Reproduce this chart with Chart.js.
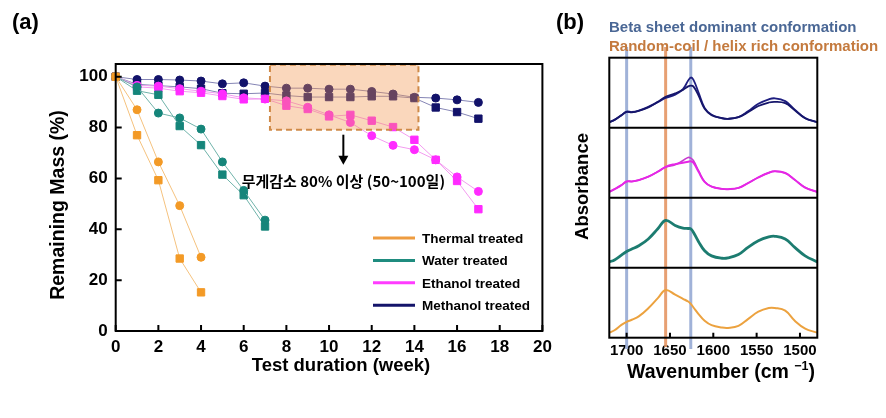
<!DOCTYPE html>
<html>
<head>
<meta charset="utf-8">
<script src="https://cdn.jsdelivr.net/npm/chart.js@4.4.1/dist/chart.umd.min.js"></script>
<style>
  html, body { margin: 0; padding: 0; background: #fff; }
  #wrap { position: relative; width: 886px; height: 418px; overflow: hidden; font-family: "Liberation Sans", Arial, sans-serif; font-weight: bold; }
  canvas { position: absolute; top: 0; }
  #massChart { left: 0; }
  #ftirChart { left: 560px; }
  .lbl { position: absolute; white-space: nowrap; line-height: 1; }
</style>
</head>
<body>
<div id="wrap">
  <canvas id="massChart" width="560" height="418"></canvas>
  <canvas id="ftirChart" width="326" height="418"></canvas>
  <div class="lbl" style="left:12px;top:11px;font-size:22px">(a)</div>
  <div class="lbl" style="left:556px;top:11px;font-size:22px">(b)</div>
  <div class="lbl" style="left:609px;top:19px;font-size:15px;color:#4a6795">Beta sheet dominant conformation</div>
  <div class="lbl" style="left:609px;top:38px;font-size:15px;color:#c47a3e">Random-coil / helix rich conformation</div>
  <div class="lbl" style="left:627px;top:362px;font-size:19.5px">Wavenumber (cm <span style="font-size:12.5px;position:relative;top:-8px">−1</span>)</div>
</div>
<script>
// ---- (a) remaining mass data ----
const xTicksA = [0, 2, 4, 6, 8, 10, 12, 14, 16, 18, 20];
const yTicksA = [0, 20, 40, 60, 80, 100];

const thermalWeeks = [0, 1, 2, 3, 4];
const thermalCircle = [100, 87, 66.5, 49.3, 29];
const thermalSquare = [100, 77, 59.3, 28.5, 15.2];

const waterWeeks = [0, 1, 2, 3, 4, 5, 6, 7];
const waterCircle = [100, 96, 85.7, 83.8, 79.4, 66.5, 55.3, 43.6];
const waterSquare = [100, 94.5, 92.9, 80.6, 73.1, 61.5, 53.4, 41.1];

const longWeeks = [0, 1, 2, 3, 4, 5, 6, 7, 8, 9, 10, 11, 12, 13, 14, 15, 16, 17];
const ethanolCircle = [100, 96.6, 96.3, 95.3, 94.3, 93.3, 91.7, 91.2, 90.5, 88, 85, 82, 76.8, 73, 71.3, 67.3, 60.6, 54.9];
const ethanolSquare = [100, 96, 95.5, 94.3, 93.7, 92.4, 91.1, 91.3, 88.6, 87.3, 84.4, 85, 82.7, 80.2, 75.2, 67.3, 59, 47.9];
const methanolCircle = [100, 98.9, 98.9, 98.7, 98.3, 97.2, 97.6, 96.3, 95.5, 95.5, 95.1, 95.1, 94.2, 93.2, 91.9, 91.6, 90.9, 89.9];
const methanolSquare = [100, 97, 96.5, 96, 95.3, 93.5, 93.3, 93.6, 92.6, 92, 92, 92, 92.3, 92.3, 91.6, 87.9, 86.1, 83.5];

const seriesNames = ['Thermal treated', 'Water treated', 'Ethanol treated', 'Methanol treated'];

// ---- (b) FTIR data ----
const wavenumbers = [1720, 1714, 1706, 1700, 1694, 1686, 1675, 1664, 1655, 1644, 1635, 1629, 1626, 1623, 1617, 1610, 1602, 1590, 1583, 1571, 1560, 1548, 1536, 1529, 1517, 1506, 1494, 1480];
const thermalAbs = [0.072, 0.106, 0.184, 0.227, 0.256, 0.304, 0.42, 0.565, 0.681, 0.614, 0.556, 0.517, 0.483, 0.435, 0.338, 0.242, 0.179, 0.145, 0.14, 0.169, 0.266, 0.372, 0.425, 0.425, 0.386, 0.242, 0.13, 0.072];
const waterAbs = [0.082, 0.111, 0.179, 0.232, 0.266, 0.314, 0.411, 0.556, 0.676, 0.604, 0.565, 0.56, 0.556, 0.507, 0.372, 0.242, 0.169, 0.135, 0.14, 0.188, 0.29, 0.386, 0.44, 0.449, 0.411, 0.29, 0.169, 0.082];
const ethanolAbsA = [0.082, 0.121, 0.179, 0.232, 0.232, 0.251, 0.3, 0.372, 0.435, 0.469, 0.531, 0.575, 0.565, 0.531, 0.386, 0.227, 0.159, 0.126, 0.121, 0.14, 0.208, 0.29, 0.357, 0.377, 0.353, 0.256, 0.145, 0.082];
const ethanolAbsB = [0.082, 0.121, 0.179, 0.232, 0.232, 0.251, 0.3, 0.372, 0.44, 0.48, 0.5, 0.515, 0.52, 0.5, 0.37, 0.227, 0.159, 0.126, 0.121, 0.14, 0.208, 0.29, 0.357, 0.377, 0.353, 0.256, 0.145, 0.082];
const methanolAbsA = [0.078, 0.112, 0.176, 0.229, 0.224, 0.244, 0.298, 0.366, 0.424, 0.473, 0.551, 0.673, 0.717, 0.688, 0.502, 0.283, 0.185, 0.137, 0.127, 0.151, 0.234, 0.341, 0.405, 0.42, 0.38, 0.259, 0.137, 0.078];
const methanolAbsB = [0.078, 0.112, 0.18, 0.225, 0.22, 0.24, 0.29, 0.37, 0.44, 0.49, 0.54, 0.59, 0.6, 0.59, 0.46, 0.27, 0.18, 0.135, 0.127, 0.15, 0.22, 0.31, 0.36, 0.37, 0.35, 0.25, 0.135, 0.078];
const wnTicks = [1500, 1550, 1600, 1650, 1700];
const betaLines = [1700, 1626];
const coilLines = [1655];

const FONT = '"Liberation Sans", Arial, sans-serif';

function pts(xs, ys) { return xs.map((x, i) => ({ x: x, y: ys[i] })); }

// ---------- chart (a) ----------
const styleA = [
  { marker: '#f39a26', line: '#f5c27e', legend: '#ee9c40' },
  { marker: '#15857a', line: '#6fb3aa', legend: '#1f8c7f' },
  { marker: '#ff2bff', line: '#f39cf0', legend: '#ff3cff' },
  { marker: '#12126a', line: '#8585b5', legend: '#14146a' }
];
const groupsA = [
  [thermalWeeks, thermalCircle, thermalSquare],
  [waterWeeks, waterCircle, waterSquare],
  [longWeeks, ethanolCircle, ethanolSquare],
  [longWeeks, methanolCircle, methanolSquare]
];
const datasetsA = [];
groupsA.forEach((g, i) => {
  const st = styleA[i];
  [[g[1], 'circle', 4], [g[2], 'rect', 5.2]].forEach(([vals, shape, r]) => {
    datasetsA.push({
      label: seriesNames[i],
      data: pts(g[0], vals),
      showLine: true,
      clip: false,
      borderColor: st.line,
      borderWidth: 1,
      pointStyle: shape,
      pointRadius: r,
      pointBackgroundColor: st.marker,
      pointBorderColor: st.marker,
      pointBorderWidth: 1
    });
  });
});

const frameA = {
  id: 'frameA',
  afterDatasetsDraw(chart) {
    const { ctx, scales: { x, y } } = chart;
    // shaded region of interest
    const x0 = x.getPixelForValue(7.23), x1 = x.getPixelForValue(14.19);
    const y0 = y.getPixelForValue(104.7), y1 = y.getPixelForValue(79.1);
    ctx.save();
    ctx.fillStyle = 'rgba(242,150,80,0.38)';
    ctx.fillRect(x0, y0, x1 - x0, y1 - y0);
    ctx.setLineDash([6, 4]);
    ctx.strokeStyle = '#cf8a48';
    ctx.lineWidth = 2;
    ctx.strokeRect(x0, y0, x1 - x0, y1 - y0);
    ctx.setLineDash([]);
    // arrow
    const ax = x.getPixelForValue(10.67);
    const ay0 = y.getPixelForValue(77.2), ay1 = y.getPixelForValue(65.4);
    ctx.strokeStyle = '#000';
    ctx.fillStyle = '#000';
    ctx.lineWidth = 2;
    ctx.beginPath(); ctx.moveTo(ax, ay0); ctx.lineTo(ax, ay1 - 8); ctx.stroke();
    ctx.beginPath(); ctx.moveTo(ax - 5, ay1 - 9); ctx.lineTo(ax + 5, ay1 - 9); ctx.lineTo(ax, ay1); ctx.closePath(); ctx.fill();
    ctx.font = 'bold 15px "Noto Sans CJK KR", ' + FONT;
    ctx.textAlign = 'center';
    ctx.textBaseline = 'middle';
    ctx.fillText('무게감소 80% 이상 (50~100일)', ax, y.getPixelForValue(58.9));
    // legend
    ctx.textAlign = 'left';
    ctx.font = 'bold 13.5px ' + FONT;
    seriesNames.forEach((name, i) => {
      const ly = 238 + i * 22.4;
      ctx.strokeStyle = styleA[i].legend;
      ctx.lineWidth = 3;
      ctx.beginPath(); ctx.moveTo(373, ly); ctx.lineTo(415, ly); ctx.stroke();
      ctx.fillStyle = '#000';
      ctx.fillText(name, 422, ly + 1);
    });
    ctx.restore();
  },
  afterDraw(chart) {
    const { ctx, chartArea: a, scales: { x, y } } = chart;
    ctx.save();
    ctx.strokeStyle = '#000';
    ctx.lineWidth = 2;
    ctx.strokeRect(a.left, a.top, a.right - a.left, a.bottom - a.top);
    ctx.beginPath();
    xTicksA.forEach(v => { const px = x.getPixelForValue(v); ctx.moveTo(px, a.bottom); ctx.lineTo(px, a.bottom - 6); });
    yTicksA.forEach(v => { const py = y.getPixelForValue(v); ctx.moveTo(a.left, py); ctx.lineTo(a.left + 6, py); });
    ctx.stroke();
    // axis titles
    ctx.fillStyle = '#000';
    ctx.textAlign = 'center';
    ctx.textBaseline = 'middle';
    ctx.font = 'bold 18.5px ' + FONT;
    ctx.fillText('Test duration (week)', 341, 366);
    ctx.translate(58.5, 205);
    ctx.rotate(-Math.PI / 2);
    ctx.font = 'bold 19.5px ' + FONT;
    ctx.fillText('Remaining Mass (%)', 0, 0);
    ctx.restore();
  }
};

new Chart(document.getElementById('massChart'), {
  type: 'scatter',
  data: { datasets: datasetsA },
  options: {
    responsive: false,
    animation: false,
    layout: { padding: { top: 64, right: 17.6, left: 0, bottom: 0 } },
    plugins: { legend: { display: false }, tooltip: { enabled: false } },
    scales: {
      x: {
        type: 'linear', min: 0, max: 20,
        afterBuildTicks: s => { s.ticks = xTicksA.map(v => ({ value: v })); },
        afterFit: s => { s.height = 87; s.paddingLeft = 0; s.paddingRight = 0; },
        grid: { display: false, drawTicks: false },
        border: { display: false },
        ticks: { padding: 6, color: '#000', font: { family: FONT, size: 17, weight: 'bold' } }
      },
      y: {
        type: 'linear', min: 0, max: 105,
        afterBuildTicks: s => { s.ticks = yTicksA.map(v => ({ value: v })); },
        afterFit: s => { s.width = 115.7; s.paddingTop = 0; s.paddingBottom = 0; },
        grid: { display: false, drawTicks: false },
        border: { display: false },
        ticks: { padding: 8, color: '#000', font: { family: FONT, size: 17, weight: 'bold' } }
      }
    }
  },
  plugins: [frameA]
});

// ---------- chart (b) ----------
const spectra = [
  { vals: thermalAbs, offset: 0, color: '#eca23f', width: 2 },
  { vals: waterAbs, offset: 1, color: '#1c7c70', width: 2.8 },
  { vals: ethanolAbsB, offset: 2, color: '#e626e6', width: 2 },
  { vals: ethanolAbsA, offset: 2, color: '#c83ad0', width: 1.6 },
  { vals: methanolAbsB, offset: 3, color: '#16166b', width: 1.8 },
  { vals: methanolAbsA, offset: 3, color: '#1e1e80', width: 1.8 }
];
const datasetsB = spectra.map(s => ({
  data: wavenumbers.map((w, i) => ({ x: w, y: s.offset + s.vals[i] })),
  showLine: true,
  borderColor: s.color,
  borderWidth: s.width,
  pointRadius: 0,
  tension: 0.4
}));

const frameB = {
  id: 'frameB',
  beforeDatasetsDraw(chart) {
    const { ctx, scales: { x } } = chart;
    ctx.save();
    ctx.lineWidth = 3;
    ctx.strokeStyle = 'rgba(150,170,212,0.9)';
    betaLines.forEach(w => { const px = x.getPixelForValue(w); ctx.beginPath(); ctx.moveTo(px, 47); ctx.lineTo(px, 349); ctx.stroke(); });
    ctx.strokeStyle = 'rgba(228,150,100,0.9)';
    coilLines.forEach(w => { const px = x.getPixelForValue(w); ctx.beginPath(); ctx.moveTo(px, 47); ctx.lineTo(px, 347); ctx.stroke(); });
    ctx.restore();
  },
  afterDraw(chart) {
    const { ctx, chartArea: a, scales: { x, y } } = chart;
    ctx.save();
    ctx.strokeStyle = '#000';
    ctx.lineWidth = 2;
    ctx.strokeRect(a.left, a.top, a.right - a.left, a.bottom - a.top);
    ctx.beginPath();
    [1, 2, 3].forEach(v => { const py = y.getPixelForValue(v); ctx.moveTo(a.left, py); ctx.lineTo(a.right, py); });
    wnTicks.forEach(v => { const px = x.getPixelForValue(v); ctx.moveTo(px, a.bottom); ctx.lineTo(px, a.bottom - 5); });
    ctx.stroke();
    ctx.fillStyle = '#000';
    ctx.textAlign = 'center';
    ctx.textBaseline = 'middle';
    ctx.translate(22.5, 186.5);
    ctx.rotate(-Math.PI / 2);
    ctx.font = 'bold 18.5px ' + FONT;
    ctx.fillText('Absorbance', 0, 0);
    ctx.restore();
  }
};

new Chart(document.getElementById('ftirChart'), {
  type: 'scatter',
  data: { datasets: datasetsB },
  options: {
    responsive: false,
    animation: false,
    layout: { padding: { top: 57.7, right: 68.7, left: 0, bottom: 0 } },
    plugins: { legend: { display: false }, tooltip: { enabled: false } },
    scales: {
      x: {
        type: 'linear', min: 1480, max: 1720, reverse: true,
        afterBuildTicks: s => { s.ticks = wnTicks.map(v => ({ value: v })); },
        afterFit: s => { s.height = 80.3; s.paddingLeft = 0; s.paddingRight = 0; },
        grid: { display: false, drawTicks: false },
        border: { display: false },
        ticks: { padding: 4, color: '#000', font: { family: FONT, size: 15, weight: 'bold' }, callback: v => String(v) }
      },
      y: {
        type: 'linear', min: 0, max: 4,
        afterFit: s => { s.width = 49.3; s.paddingTop = 0; s.paddingBottom = 0; },
        grid: { display: false, drawTicks: false },
        border: { display: false },
        ticks: { display: false }
      }
    }
  },
  plugins: [frameB]
});
</script>
</body>
</html>
